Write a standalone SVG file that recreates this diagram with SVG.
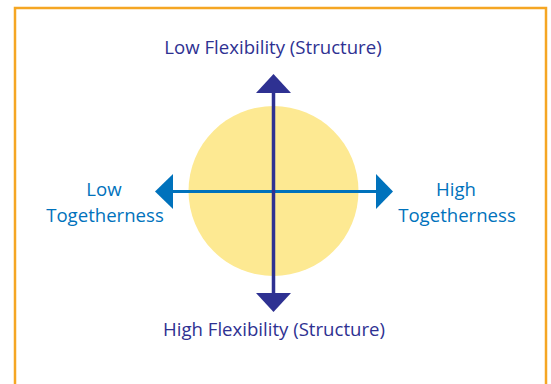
<svg xmlns="http://www.w3.org/2000/svg" width="551" height="384" viewBox="0 0 551 384">
<style>
.t{font-family:"Open Sans","Noto Sans",sans-serif;font-size:18.6px;text-anchor:middle}
.v{fill:#2e3192}
.h{fill:#0072bc}
</style>
<rect x="0" y="0" width="551" height="384" fill="#ffffff"/>
<g id="frame"><rect x="15" y="8" width="531" height="390" fill="none" stroke="#f5a623" stroke-width="2.5"/></g>
<g id="circle"><circle cx="273.5" cy="191" r="85" fill="#fde992"/></g>
<g id="connectors">
<line x1="173" y1="191.5" x2="377" y2="191.5" stroke="#0072bc" stroke-width="3"/>
<polygon class="h" points="155,191.5 173,174 173,209"/>
<polygon class="h" points="393,191.5 376,174 376,209"/>
<line x1="273.5" y1="92" x2="273.5" y2="294" stroke="#2e3192" stroke-width="3.5"/>
<polygon class="v" points="273.5,74 256,93 291,93"/>
<polygon class="v" points="273.5,312 256,293 291,293"/>
</g>
<g id="top"><text class="t v" x="273" y="54">Low Flexibility (Structure)</text></g>
<g id="bottom"><text class="t v" x="274" y="336">High Flexibility (Structure)</text></g>
<g id="left"><text class="t h" x="104" y="196">Low</text><text class="t h" x="105" y="222">Togetherness</text></g>
<g id="right"><text class="t h" x="456" y="196">High</text><text class="t h" x="457" y="222">Togetherness</text></g>
</svg>
